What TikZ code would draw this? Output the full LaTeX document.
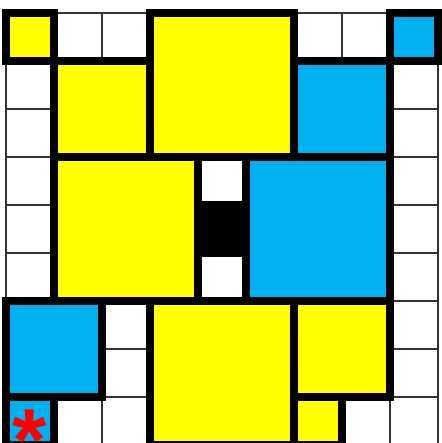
\documentclass[tikz,border=0pt]{standalone}
\usepackage{fontspec}
\newfontfamily\astfont{Liberation Sans}
\definecolor{yel}{RGB}{255,255,0}
\definecolor{blu}{RGB}{0,176,240}
\begin{document}
\begin{tikzpicture}[x=1pt,y=-1pt,
  cellbox/.style={draw=black!80, line width=1.6pt, minimum size=48pt, inner sep=0pt, outer sep=0pt, fill=white},
  blk/.style={draw=black, line width=8pt, inner sep=0pt, outer sep=0pt, minimum size=#1},
  blk/.default=48pt]
\useasboundingbox (0,0) rectangle (441,443);
% thin grid of white cells
\foreach \c in {0,...,8}{
  \foreach \r in {0,...,8}{
    \node[cellbox] (w-\c-\r) at ({30+48*\c},{37+48*\r}) {};
  }
}
% blocks: column, row, size, colour
\foreach \c/\r/\s/\col/\nm in {
  0/0/1/yel/ya, 3/0/3/yel/yb, 8/0/1/blu/ba, 1/1/2/yel/yc, 6/1/2/blu/bb,
  1/3/3/yel/yd, 4/4/1/black/kk, 5/3/3/blu/bc, 0/6/2/blu/bd, 3/6/3/yel/ye,
  6/6/2/yel/yf, 0/8/1/blu/be, 6/8/1/yel/yg}{
  \node[blk={48pt*\s}, fill=\col] (\nm) at ({6+48*\c+24*\s},{13+48*\r+24*\s}) {};
}
\node[anchor=base, inner sep=0pt, text=red, font=\astfont\bfseries\fontsize{88}{88}\selectfont] (ast) at (30,470) {*};
\end{tikzpicture}
\end{document}
